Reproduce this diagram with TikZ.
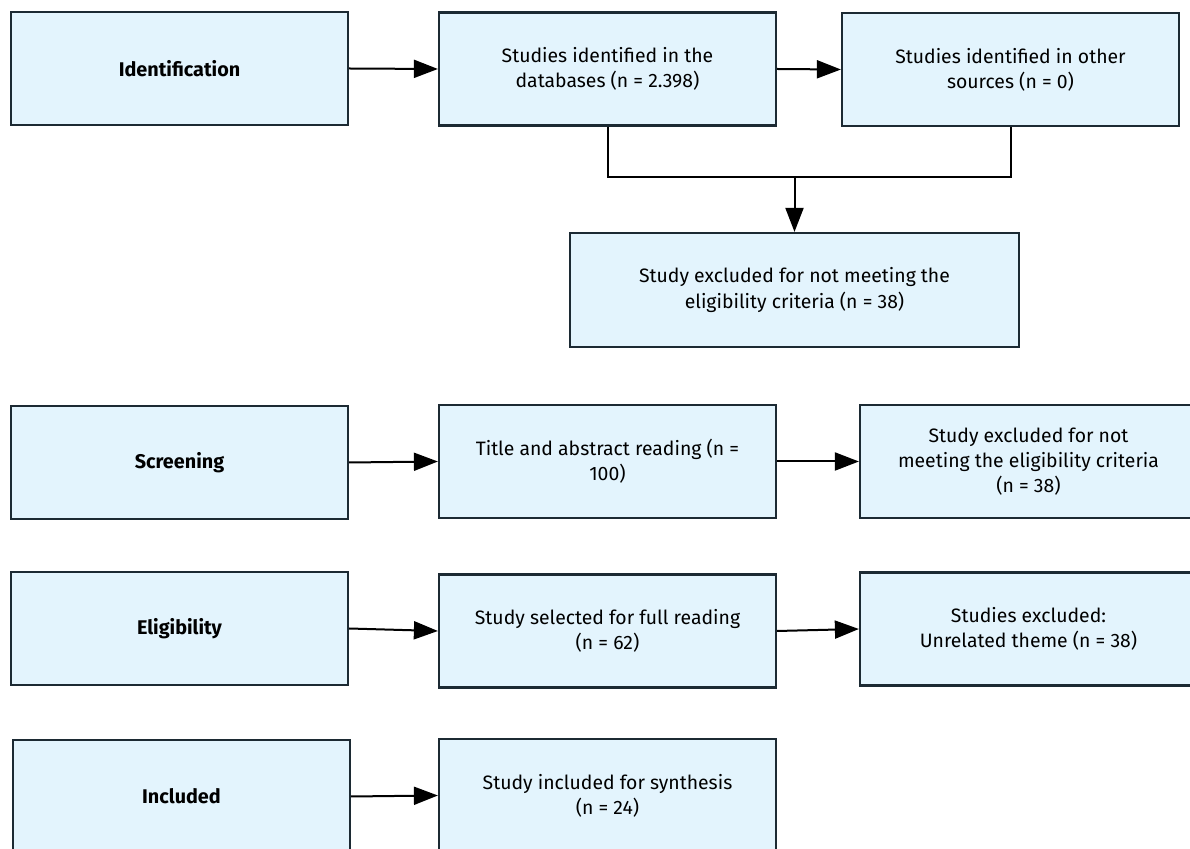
\documentclass[tikz,border=0pt]{standalone}
\usepackage{fontspec}
\setmainfont{Fira Sans}
\usetikzlibrary{arrows.meta}
\definecolor{boxfill}{HTML}{E3F4FD}
\definecolor{boxline}{HTML}{1C2A33}
\tikzset{
  box/.style={draw=boxline, line width=1.1pt, fill=boxfill, minimum width=168.5pt, minimum height=56.5pt, inner sep=2pt, align=center, font=\fontsize{9.7}{12.6}\selectfont},
  lbl/.style={box, font=\fontsize{9.9}{12.6}\selectfont\bfseries},
  arr/.style={line width=1pt, -{Triangle[length=12pt,width=9pt]}},
  ln/.style={line width=1pt}
}
\begin{document}
\begin{tikzpicture}[x=0.5pt,y=-0.5pt]
\useasboundingbox (0,0) rectangle (1190,849);
\clip (0,0) rectangle (1190,849);
\node[lbl] (id) at (179.5,68.5) {Identification};
\node[box] (db) at (607.5,69) {Studies identified in the\\databases (n = 2.398)};
\node[box] (oth) at (1010.5,69.5) {Studies identified in other\\sources (n = 0)};
\node[box, minimum width=224.5pt, minimum height=57pt] (exc) at (794.5,290) {Study excluded for not meeting the\\eligibility criteria (n = 38)};
\node[lbl] (scr) at (179.5,462.5) {Screening};
\node[box] (tit) at (607.5,461.5) {Title and abstract reading (n =\\100)};
\node[box] (ex2) at (1028.5,461.5) {Study excluded for not\\meeting the eligibility criteria\\(n = 38)};
\node[lbl] (eli) at (179.5,628.5) {Eligibility};
\node[box] (sel) at (607.5,631) {Study selected for full reading\\(n = 62)};
\node[box] (ex3) at (1028.5,629) {Studies excluded:\\Unrelated theme (n = 38)};
\node[lbl] (inc) at (181.5,796.5) {Included};
\node[box] (syn) at (607.5,795.5) {Study included for synthesis\\(n = 24)};
\coordinate (mj) at (794.5,177);
\draw[arr] (id.east) -- (db.west);
\draw[arr] (db.east) -- (oth.west);
\draw[ln] (db.south) -- (db.south |- mj) -- (oth.south |- mj) -- (oth.south);
\draw[arr] (mj) -- (exc.north);
\draw[arr] (scr.east) -- (tit.west);
\draw[arr] (tit.east) -- (ex2.west);
\draw[arr] (eli.east) -- (sel.west);
\draw[arr] (sel.east) -- (ex3.west);
\draw[arr] (inc.east) -- (syn.west);
\end{tikzpicture}
\end{document}
